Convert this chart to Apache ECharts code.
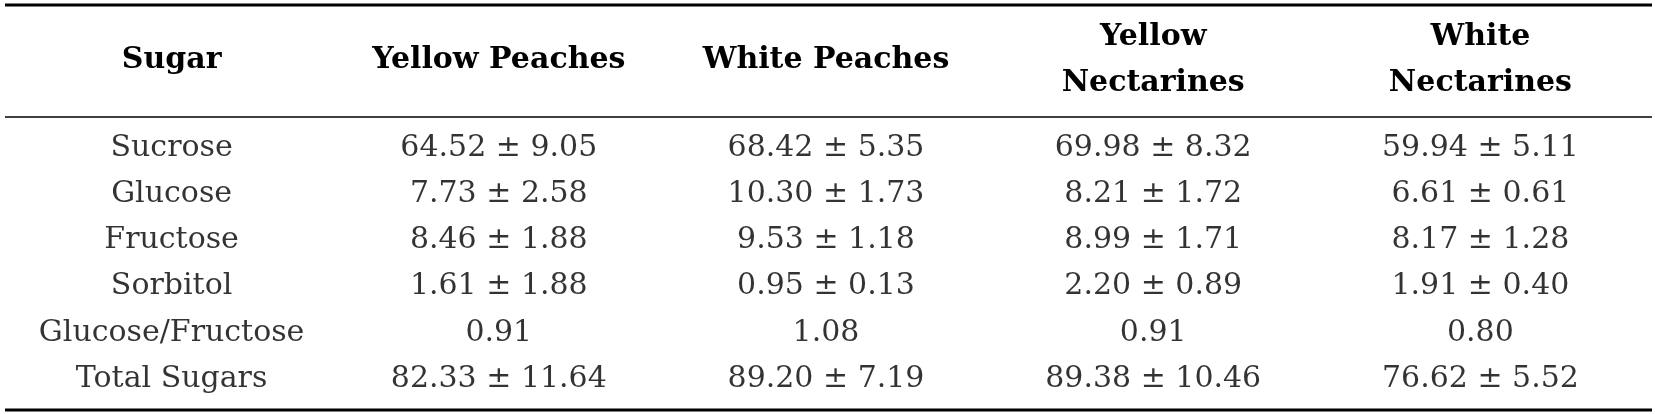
<!DOCTYPE html>
<html><head><meta charset="utf-8">
<script src="https://cdn.jsdelivr.net/npm/echarts@6/dist/echarts.min.js"></script>
<style>html,body{margin:0;padding:0;background:#fff}#c{width:1655px;height:414px}</style>
</head><body><div id="c"></div>
<script>
const columns = ['Sugar', 'Yellow Peaches', 'White Peaches', 'Yellow\nNectarines', 'White\nNectarines'];
const sugars = ['Sucrose', 'Glucose', 'Fructose', 'Sorbitol', 'Glucose/Fructose', 'Total Sugars'];
const yellowPeaches = ['64.52 ± 9.05', '7.73 ± 2.58', '8.46 ± 1.88', '1.61 ± 1.88', '0.91', '82.33 ± 11.64'];
const whitePeaches = ['68.42 ± 5.35', '10.30 ± 1.73', '9.53 ± 1.18', '0.95 ± 0.13', '1.08', '89.20 ± 7.19'];
const yellowNectarines = ['69.98 ± 8.32', '8.21 ± 1.72', '8.99 ± 1.71', '2.20 ± 0.89', '0.91', '89.38 ± 10.46'];
const whiteNectarines = ['59.94 ± 5.11', '6.61 ± 0.61', '8.17 ± 1.28', '1.91 ± 0.40', '0.80', '76.62 ± 5.52'];

const cols = [sugars, yellowPeaches, whitePeaches, yellowNectarines, whiteNectarines];
const data = [];
cols.forEach((c, i) => c.forEach((t, j) => data.push({value: [i, j], text: t})));
const font = 'DejaVu Serif';
const chart = echarts.init(document.getElementById('c'));
chart.setOption({
  animation: false,
  grid: {left: 8, right: 11, top: 125, bottom: 12},
  xAxis: {type: 'category', data: columns, position: 'top',
    axisLine: {show: false}, axisTick: {show: false}, splitLine: {show: false},
    axisLabel: {interval: 0, margin: 65, verticalAlign: 'middle', fontFamily: font, fontWeight: 'bold',
      fontSize: 30, color: '#000', lineHeight: 46}},
  yAxis: {type: 'category', data: sugars, inverse: true, show: false},
  series: [{type: 'scatter', symbolSize: 0, data: data,
    label: {show: true, position: 'inside', formatter: p => p.data.text,
      fontFamily: font, fontSize: 30, color: '#000'}}],
  graphic: [
    {type: 'line', shape: {x1: 5, y1: 5, x2: 1652, y2: 5}, style: {stroke: '#000', lineWidth: 3}},
    {type: 'line', shape: {x1: 5, y1: 117, x2: 1652, y2: 117}, style: {stroke: '#000', lineWidth: 1.6}},
    {type: 'line', shape: {x1: 5, y1: 410, x2: 1652, y2: 410}, style: {stroke: '#000', lineWidth: 3}}
  ]
});
</script></body></html>
